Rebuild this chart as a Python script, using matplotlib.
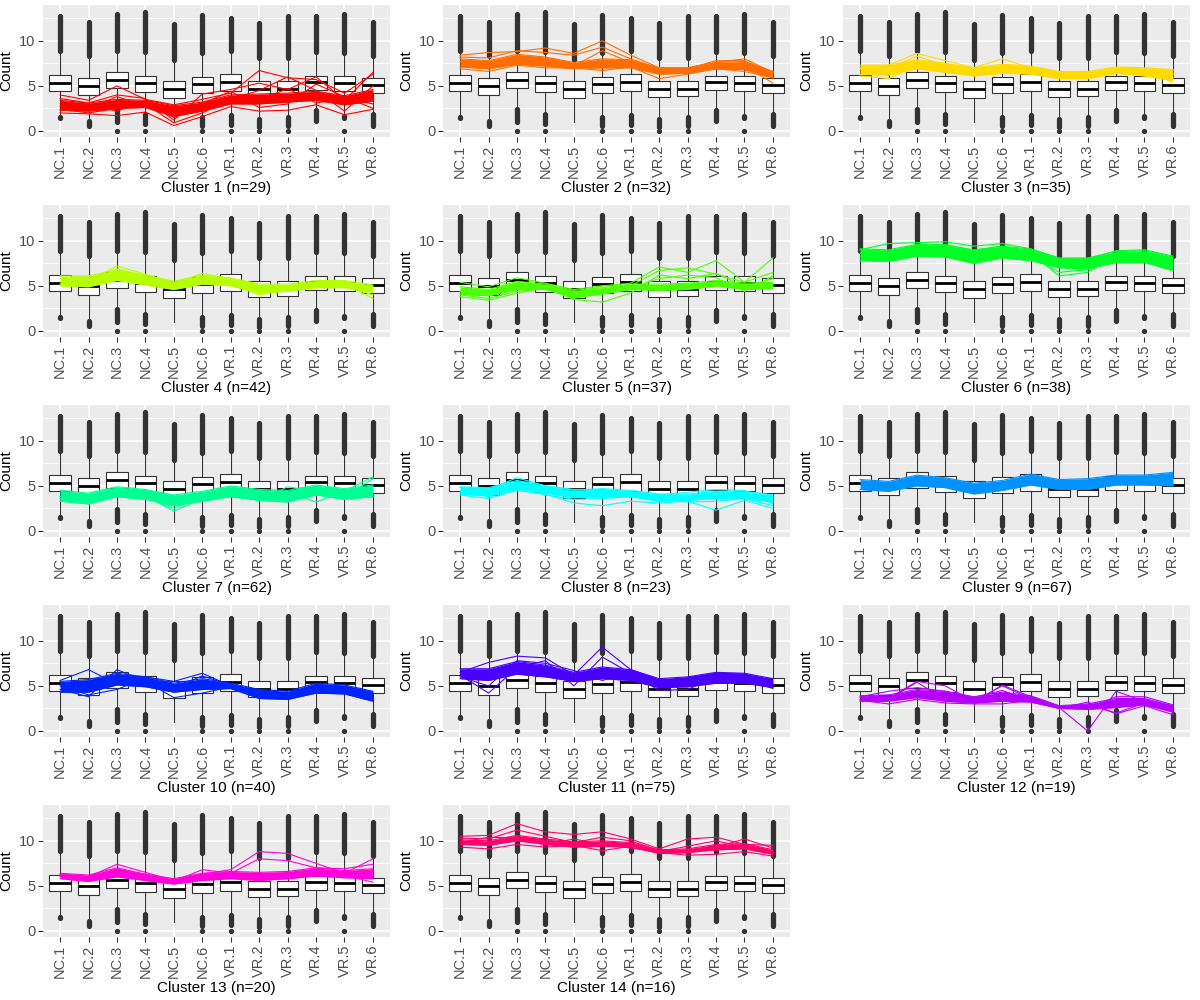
import matplotlib
matplotlib.use("Agg")
import matplotlib.pyplot as plt

plt.rcParams["font.family"] = ["Liberation Sans", "DejaVu Sans"]

SAMPLES = ["NC.1", "NC.2", "NC.3", "NC.4", "NC.5", "NC.6",
           "VR.1", "VR.2", "VR.3", "VR.4", "VR.5", "VR.6"]

# background boxplot summary (same in every panel)
Q1 = [4.40, 4.03, 4.76, 4.32, 3.63, 4.18, 4.47, 3.74, 3.85, 4.54, 4.40, 4.21]
MED = [5.35, 4.98, 5.64, 5.35, 4.62, 5.20, 5.42, 4.69, 4.69, 5.42, 5.27, 5.05]
Q3 = [6.22, 5.86, 6.52, 6.12, 5.57, 6.00, 6.30, 5.57, 5.57, 6.15, 6.15, 5.82]
WHIS_LO = [1.7, 1.3, 2.5, 2.0, 1.0, 1.8, 1.9, 1.4, 1.6, 2.4, 1.8, 2.0]
WHIS_HI = [8.8, 8.2, 8.8, 8.7, 7.8, 8.5, 8.8, 8.0, 8.0, 8.7, 8.5, 8.2]
# dense outlier runs (first and last outlier) and lone outliers
UP_FIRST = [8.9, 8.3, 8.9, 8.8, 7.9, 8.6, 8.9, 8.1, 8.1, 8.8, 8.6, 8.3]
UP_LAST = [12.7, 12.1, 13.0, 13.2, 11.9, 12.9, 12.5, 12.0, 12.7, 12.7, 13.0, 12.1]
LOW_FIRST = [1.6, 1.1, 2.4, 1.9, 0.73, 1.6, 1.8, 1.3, 1.5, 2.3, 1.7, 1.9]
LOW_LAST = [1.4, 0.6, 1.0, 0.8, 0.73, 0.6, 0.7, 0.45, 0.6, 1.1, 1.4, 0.5]
LOW_ZERO = [None, None, 0.0, 0.0, None, 0.0, 0.0, 0.0, 0.0, None, 0.0, None]

# cluster profiles: dense core (low / high edge) plus stray members
LO_1 = [2.3, 2.2, 2.5, 2.6, 1.6, 2.2, 3.0, 3.0, 3.2, 3.4, 2.9, 3.3]
HI_1 = [3.4, 3.1, 3.5, 3.4, 2.8, 3.2, 4.0, 4.1, 4.2, 4.4, 3.9, 4.6]
EX_1 = [[4.0, 3.4, 5.0, 3.5, 2.9, 3.5, 4.2, 6.7, 5.9, 5.7, 4.2, 6.3],
        [2.0, 1.9, 1.7, 2.1, 0.6, 1.6, 2.7, 2.2, 2.3, 2.9, 1.8, 2.4],
        [3.6, 3.1, 4.0, 3.6, 1.2, 4.1, 4.6, 5.3, 4.6, 6.0, 3.4, 6.5],
        [2.4, 2.0, 2.5, 3.0, 0.9, 2.0, 3.5, 4.5, 6.0, 4.5, 2.2, 5.0],
        [3.0, 2.8, 2.2, 3.3, 1.5, 3.0, 4.4, 2.6, 3.0, 5.2, 3.8, 2.5],
        [2.7, 2.5, 3.8, 2.8, 2.2, 2.5, 3.2, 3.4, 4.7, 3.1, 3.6, 3.0]]
LO_2 = [7.1, 6.9, 7.4, 7.2, 6.9, 7.0, 7.0, 6.3, 6.4, 6.9, 6.8, 5.9]
HI_2 = [8.0, 7.8, 8.5, 8.2, 7.6, 8.0, 7.9, 7.0, 7.0, 7.6, 7.7, 6.6]
EX_2 = [[8.4, 8.7, 8.8, 9.2, 8.6, 10.0, 8.4, 7.0, 7.0, 7.6, 8.0, 6.5],
        [8.2, 8.1, 8.9, 8.7, 8.4, 9.3, 8.0, 6.9, 6.9, 7.8, 7.8, 6.3],
        [7.7, 7.5, 8.3, 8.0, 7.2, 8.9, 7.6, 6.6, 6.7, 7.3, 7.3, 5.3],
        [6.9, 6.6, 7.3, 7.0, 7.0, 6.7, 7.1, 5.8, 6.3, 6.9, 6.6, 5.9]]
LO_3 = [6.3, 6.2, 6.9, 6.5, 6.1, 6.4, 6.3, 5.8, 5.8, 6.4, 6.1, 5.6]
HI_3 = [7.3, 7.3, 7.9, 7.5, 7.0, 7.4, 7.2, 6.6, 6.6, 7.1, 7.0, 6.8]
EX_3 = [[6.9, 7.3, 8.6, 7.8, 7.0, 8.0, 7.0, 6.4, 6.4, 6.9, 6.8, 6.8],
        [7.0, 6.9, 8.3, 7.2, 6.7, 7.0, 6.8, 6.0, 6.2, 6.8, 6.6, 5.4],
        [6.1, 5.8, 7.3, 7.0, 6.4, 6.6, 6.5, 6.2, 6.0, 6.6, 6.4, 6.3]]
LO_4 = [5.0, 4.9, 5.6, 5.1, 4.6, 5.2, 5.0, 4.2, 4.4, 4.8, 4.8, 4.3]
HI_4 = [6.1, 6.1, 6.8, 6.2, 5.5, 6.2, 5.9, 5.2, 5.2, 5.6, 5.6, 5.1]
EX_4 = [[5.8, 5.6, 7.2, 6.3, 5.3, 6.4, 5.7, 4.9, 5.0, 5.4, 5.2, 3.6],
        [5.2, 5.3, 6.9, 6.0, 5.0, 5.9, 5.2, 4.0, 4.6, 5.3, 5.0, 4.0]]
LO_5 = [4.1, 3.9, 4.6, 4.6, 3.7, 4.1, 4.6, 4.5, 4.6, 5.0, 4.6, 4.7]
HI_5 = [4.9, 4.6, 5.5, 5.2, 4.5, 4.8, 5.2, 5.2, 5.3, 5.6, 5.3, 5.4]
EX_5 = [[5.4, 4.9, 5.9, 5.3, 4.6, 5.0, 5.3, 7.1, 6.5, 7.8, 5.4, 8.1],
        [4.4, 4.2, 5.3, 5.0, 4.2, 5.0, 5.0, 6.7, 7.0, 6.3, 5.4, 6.5],
        [3.8, 3.4, 4.2, 4.8, 3.5, 3.2, 4.2, 6.2, 5.8, 6.4, 4.9, 5.8],
        [4.0, 3.6, 4.4, 4.7, 3.6, 4.3, 4.8, 5.8, 6.2, 5.9, 4.4, 6.1]]
LO_6 = [7.8, 7.7, 8.3, 8.2, 7.5, 8.1, 7.8, 7.0, 6.9, 7.6, 7.6, 6.7]
HI_6 = [9.1, 9.0, 9.6, 9.5, 9.0, 9.4, 9.1, 8.1, 8.1, 8.8, 8.9, 8.2]
EX_6 = [[9.0, 9.7, 9.8, 9.9, 9.4, 9.7, 9.1, 8.0, 8.0, 8.9, 9.0, 8.3],
        [8.6, 8.8, 9.5, 9.6, 8.9, 9.4, 8.7, 6.1, 6.5, 8.3, 8.4, 7.5],
        [8.3, 8.5, 9.2, 9.0, 8.5, 9.0, 8.4, 6.5, 6.8, 8.0, 8.2, 7.3]]
LO_7 = [3.3, 3.0, 3.8, 3.5, 2.8, 3.3, 3.8, 3.4, 3.2, 4.0, 3.5, 3.8]
HI_7 = [4.5, 4.2, 4.9, 4.6, 4.0, 4.4, 5.0, 4.6, 4.5, 5.1, 4.7, 5.1]
EX_7 = [[3.6, 3.3, 4.3, 3.9, 2.2, 3.6, 4.4, 4.2, 4.3, 3.2, 4.4, 6.0],
        [3.8, 3.4, 4.2, 3.7, 2.5, 3.8, 4.4, 3.3, 4.9, 4.4, 3.8, 5.8]]
LO_8 = [4.1, 3.9, 4.7, 4.2, 3.7, 3.8, 3.8, 3.3, 3.4, 3.6, 3.6, 3.2]
HI_8 = [4.9, 4.8, 5.6, 5.0, 4.5, 4.7, 4.5, 4.1, 4.1, 4.4, 4.4, 4.0]
EX_8 = [[4.0, 3.6, 4.5, 4.1, 3.1, 2.8, 3.3, 3.1, 3.3, 2.3, 3.4, 2.5],
        [4.3, 3.8, 4.6, 4.0, 3.5, 3.6, 3.8, 3.6, 3.2, 3.3, 3.6, 2.8],
        [4.8, 4.6, 5.9, 5.0, 4.6, 4.6, 4.2, 4.0, 4.3, 4.6, 4.5, 3.0]]
LO_9 = [4.6, 4.4, 5.0, 4.8, 4.1, 4.5, 5.1, 4.6, 4.6, 5.1, 5.1, 5.0]
HI_9 = [5.7, 5.5, 6.2, 5.9, 5.3, 5.6, 6.3, 5.7, 5.8, 6.2, 6.2, 6.5]
EX_9 = []
LO_10 = [4.3, 4.3, 5.1, 4.9, 4.3, 4.6, 4.7, 3.6, 3.5, 4.2, 4.1, 3.3]
HI_10 = [5.5, 5.7, 6.4, 6.0, 5.3, 5.8, 5.3, 4.6, 4.4, 5.3, 5.1, 4.4]
EX_10 = [[5.6, 6.8, 5.2, 6.0, 5.5, 6.4, 5.0, 4.3, 4.2, 5.0, 4.8, 4.0],
         [4.6, 3.8, 6.8, 5.5, 3.7, 4.2, 4.9, 4.0, 4.0, 4.8, 4.6, 3.7],
         [5.0, 4.0, 4.6, 5.9, 4.8, 6.1, 5.1, 4.1, 3.8, 5.2, 4.5, 3.5]]
LO_11 = [5.8, 5.6, 6.3, 6.0, 5.5, 5.8, 5.6, 4.8, 4.9, 5.3, 5.3, 4.8]
HI_11 = [6.9, 6.9, 7.7, 7.3, 6.5, 7.1, 6.8, 5.8, 6.0, 6.5, 6.4, 5.8]
EX_11 = [[6.5, 7.6, 8.3, 8.1, 6.2, 9.3, 6.8, 5.6, 5.9, 6.4, 6.3, 5.4],
         [6.2, 4.2, 7.0, 7.8, 5.0, 8.2, 6.4, 4.5, 4.6, 6.0, 5.5, 5.0],
         [6.0, 5.0, 7.8, 7.5, 6.7, 5.6, 6.5, 5.1, 4.9, 5.8, 5.9, 4.7]]
LO_12 = [3.3, 3.3, 3.7, 3.3, 3.1, 3.3, 3.2, 2.5, 2.4, 2.6, 2.9, 2.1]
HI_12 = [3.9, 4.0, 4.6, 4.4, 3.8, 4.3, 3.9, 2.8, 3.0, 3.6, 3.6, 2.8]
EX_12 = [[3.5, 3.6, 5.5, 5.0, 3.3, 5.0, 3.6, 2.6, 0.0, 4.4, 3.3, 2.8],
         [3.7, 3.5, 5.4, 3.5, 3.1, 5.1, 3.8, 2.7, 2.9, 2.0, 3.1, 2.4],
         [3.4, 3.0, 3.5, 3.1, 3.0, 3.0, 3.4, 2.5, 3.2, 1.9, 2.8, 1.8],
         [3.8, 4.4, 4.8, 4.4, 3.7, 4.5, 3.3, 2.7, 2.5, 3.8, 3.8, 2.9]]
LO_13 = [5.8, 5.5, 6.0, 5.6, 5.2, 5.6, 5.8, 5.6, 5.8, 6.1, 5.9, 5.8]
HI_13 = [6.4, 6.2, 7.0, 6.3, 5.8, 6.4, 6.6, 6.5, 6.6, 7.0, 6.7, 6.9]
EX_13 = [[6.3, 6.0, 7.4, 6.5, 5.6, 6.3, 6.8, 8.8, 8.6, 7.5, 6.4, 8.0],
         [6.1, 5.9, 6.8, 6.2, 5.5, 6.8, 6.4, 8.0, 7.8, 7.0, 6.9, 7.4],
         [6.0, 5.7, 6.2, 5.8, 5.4, 5.9, 6.1, 5.8, 6.3, 6.5, 6.2, 5.4]]
LO_14 = [9.6, 9.5, 10.0, 9.6, 9.3, 9.4, 9.3, 8.6, 8.7, 9.0, 9.1, 8.5]
HI_14 = [10.1, 10.0, 10.6, 10.2, 9.9, 10.0, 9.8, 9.0, 9.1, 9.6, 9.7, 9.0]
EX_14 = [[10.5, 10.6, 11.9, 11.0, 10.7, 11.0, 10.2, 9.1, 10.2, 10.4, 9.6, 9.5],
         [9.3, 9.1, 9.6, 9.3, 9.5, 8.9, 9.4, 8.7, 8.4, 8.5, 8.8, 8.3],
         [10.3, 10.2, 11.2, 10.5, 9.8, 10.4, 10.0, 8.9, 9.0, 9.3, 10.2, 9.2],
         [9.8, 10.4, 10.3, 9.6, 10.2, 9.6, 9.2, 8.8, 9.4, 10.0, 9.3, 8.7]]

SIZES = [29, 32, 35, 42, 37, 38, 62, 23, 67, 40, 75, 19, 20, 16]
COLORS = ["#FF0000", "#FF6D00", "#FFDB00", "#B6FF00", "#49FF00", "#00FF24", "#00FF92",
          "#00FFFF", "#0092FF", "#0024FF", "#4900FF", "#B600FF", "#FF00DB", "#FF006D"]
CORES = [(LO_1, HI_1, EX_1), (LO_2, HI_2, EX_2), (LO_3, HI_3, EX_3), (LO_4, HI_4, EX_4),
         (LO_5, HI_5, EX_5), (LO_6, HI_6, EX_6), (LO_7, HI_7, EX_7), (LO_8, HI_8, EX_8),
         (LO_9, HI_9, EX_9), (LO_10, HI_10, EX_10), (LO_11, HI_11, EX_11),
         (LO_12, HI_12, EX_12), (LO_13, HI_13, EX_13), (LO_14, HI_14, EX_14)]

X = list(range(1, len(SAMPLES) + 1))
DARK = "#333333"
stats = [dict(med=MED[i], q1=Q1[i], q3=Q3[i], whislo=WHIS_LO[i], whishi=WHIS_HI[i], fliers=[])
         for i in range(len(SAMPLES))]

fig = plt.figure(figsize=(12, 10), dpi=100)
for k in range(len(SIZES)):
    r, c = divmod(k, 3)
    ax = fig.add_axes([(43 + 400 * c) / 1200, 1 - (5 + 200 * r + 132) / 1000, 347 / 1200, 132 / 1000])
    ax.set_facecolor("#EBEBEB")
    for s in ax.spines.values():
        s.set_visible(False)
    ax.set_axisbelow(True)
    ax.grid(which="major", color="white", lw=1.1)
    ax.set_yticks([2.5, 7.5, 12.5], minor=True)
    ax.grid(which="minor", axis="y", color="white", lw=0.55)

    ax.bxp(stats, positions=X, widths=0.75, showfliers=False, showcaps=False, patch_artist=True,
           boxprops=dict(facecolor="white", edgecolor=DARK, lw=0.8),
           medianprops=dict(color="black", lw=2.0),
           whiskerprops=dict(color=DARK, lw=0.8))
    for i, x in enumerate(X):
        ax.plot([x, x], [UP_FIRST[i], UP_LAST[i]], color=DARK, lw=3.8, solid_capstyle="round")
        ax.plot([x, x], [LOW_FIRST[i], LOW_LAST[i]], color=DARK, lw=3.8, solid_capstyle="round")
        if LOW_ZERO[i] is not None:
            ax.plot([x], [LOW_ZERO[i]], "o", color=DARK, ms=3.8, mec="none")

    # cluster members drawn over the boxes
    lo, hi, extra = CORES[k]
    col = COLORS[k]
    ax.fill_between(X, lo, hi, color=col, lw=0, zorder=4)
    ax.plot(X, lo, color=col, lw=0.8, zorder=4)
    ax.plot(X, hi, color=col, lw=0.8, zorder=4)
    for prof in extra:
        ax.plot(X, prof, color=col, lw=0.8, zorder=4)

    ax.set_xlim(0.4, 12.6)
    ax.set_ylim(-0.67, 13.97)
    ax.set_yticks([0, 5, 10])
    ax.set_xticks(X)
    ax.set_xticklabels(SAMPLES, rotation=90)
    ax.tick_params(which="major", length=3.5, width=0.8, color=DARK, labelsize=10.5,
                   labelcolor="#4D4D4D", pad=2)
    ax.tick_params(which="minor", length=0)
    ax.set_ylabel("Count", fontsize=11, labelpad=4)
    ax.set_xlabel(f"Cluster {k + 1} (n={SIZES[k]})", fontsize=11, labelpad=2)

fig.savefig("out.png", dpi=100, facecolor="white")
